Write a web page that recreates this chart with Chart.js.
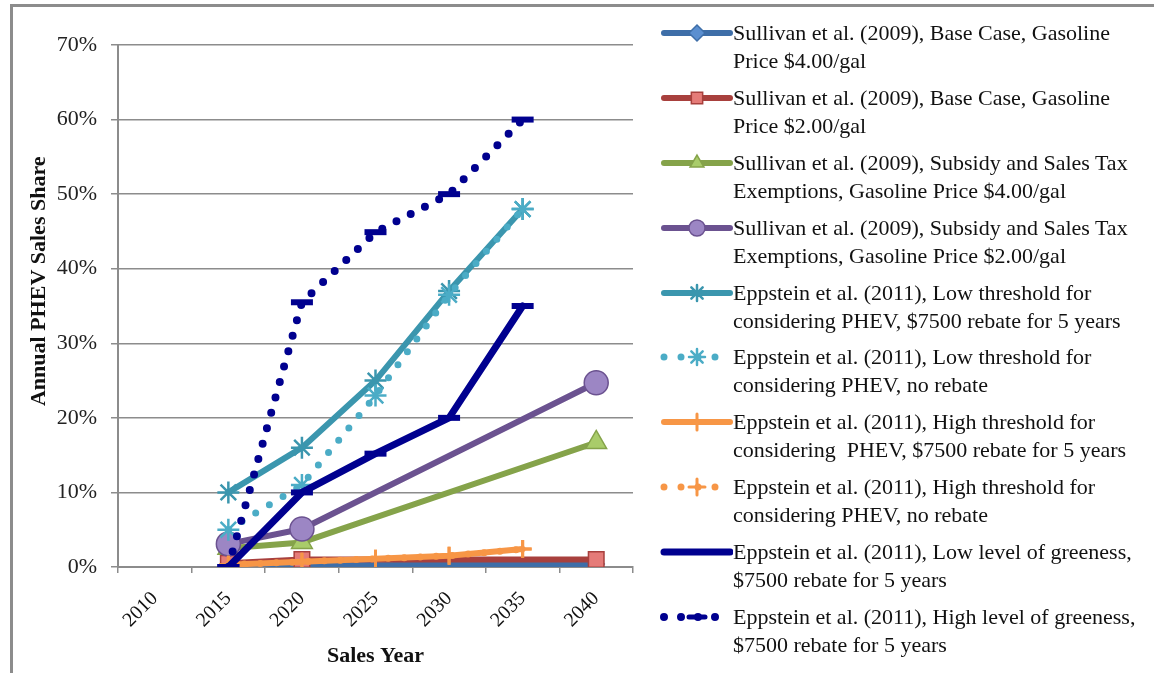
<!DOCTYPE html>
<html>
<head>
<meta charset="utf-8">
<script src="https://cdn.jsdelivr.net/npm/chart.js@4/dist/chart.umd.min.js"></script>
<style>
  html, body { margin: 0; padding: 0; background: #fff; }
  body { width: 1154px; height: 673px; position: relative; overflow: hidden; font-family: "Liberation Serif", "DejaVu Serif", serif; }
  #frame { position: absolute; left: 10px; top: 4px; right: -10px; bottom: -10px; border-left: 3px solid #8c8c8c; border-top: 3px solid #8c8c8c; }
  #plot { position: absolute; left: 0; top: 0; width: 650px; height: 673px; }
  #legend { position: absolute; left: 660px; top: 19px; width: 494px; }
  .item { display: flex; align-items: flex-start; height: 64.9px; }
  .item canvas { flex: none; margin-top: 2px; }
  .item span { font-size: 22px; line-height: 28px; color: #111; white-space: nowrap; }
</style>
</head>
<body>
<div id="frame"></div>
<div id="plot"><canvas id="chart" width="650" height="673"></canvas></div>
<div id="legend"></div>
<script>
// Anos de venda (eixo X) e rótulos do eixo Y
const years = ['2010', '2015', '2020', '2025', '2030', '2035', '2040'];
const yTicks = [0, 10, 20, 30, 40, 50, 60, 70];

// Sullivan et al. (2009) - pontos só em 2015, 2020 e 2040
const sullBase4 = [null, 0.0, 0.2, null, null, null, 0.4];
const sullBase2 = [null, 0.5, 1.0, null, null, null, 1.0];
const sullSub4 = [null, 2.5, 3.3, null, null, null, 16.7];
const sullSub2 = [null, 3.1, 5.1, null, null, null, 24.7];

// Eppstein et al. (2011)
const eppLowReb = [null, 10.0, 16.0, 25.0, 37.0, 48.0, null];
const eppLowNo = [null, 5.0, 11.0, 23.0, 36.5, 48.0, null];
const eppHighReb = [null, 0.3, 0.7, 1.1, 1.5, 2.4, null];
const eppHighNo = [null, 0.3, 0.7, 1.1, 1.5, 2.4, null];
const eppGreenLow = [null, 0.0, 10.0, 15.2, 20.0, 35.0, null];
const eppGreenHigh = [null, 0.0, 35.5, 44.9, 50.0, 60.0, null];

const labels = [
  ['Sullivan et al. (2009), Base Case, Gasoline', 'Price $4.00/gal'],
  ['Sullivan et al. (2009), Base Case, Gasoline', 'Price $2.00/gal'],
  ['Sullivan et al. (2009), Subsidy and Sales Tax', 'Exemptions, Gasoline Price $4.00/gal'],
  ['Sullivan et al. (2009), Subsidy and Sales Tax', 'Exemptions, Gasoline Price $2.00/gal'],
  ['Eppstein et al. (2011), Low threshold for', 'considering PHEV, $7500 rebate for 5 years'],
  ['Eppstein et al. (2011), Low threshold for', 'considering PHEV, no rebate'],
  ['Eppstein et al. (2011), High threshold for', 'considering&nbsp; PHEV, $7500 rebate for 5 years'],
  ['Eppstein et al. (2011), High threshold for', 'considering PHEV, no rebate'],
  ['Eppstein et al. (2011), Low level of greeness,', '$7500 rebate for 5 years'],
  ['Eppstein et al. (2011), High level of greeness,', '$7500 rebate for 5 years']
];

// Estilo de cada série
function serie(data, line, fill, style, radius, dotted, width) {
  return {
    data: data,
    borderColor: line,
    backgroundColor: fill,
    pointBorderColor: line,
    pointBackgroundColor: fill,
    pointStyle: style,
    pointRadius: radius,
    pointHoverRadius: radius,
    pointBorderWidth: style === 'line' ? 6 : (style === 'cross' ? 3 : (style === 'star' ? 2.5 : 1.5)),
    borderWidth: width || 6,
    borderDash: dotted ? [0, 16] : [],
    borderCapStyle: 'round',
    borderJoinStyle: 'round',
    spanGaps: true,
    tension: 0,
    fill: false
  };
}

const datasets = [
  serie(sullBase4, '#3e6ea8', '#5b8fd0', 'rectRot', 8),
  serie(sullBase2, '#a8403d', '#e57b78', 'rect', 11),
  serie(sullSub4, '#85a34a', '#a9cc6a', 'triangle', 12),
  serie(sullSub2, '#6b5290', '#9c86c4', 'circle', 12),
  serie(eppLowReb, '#3b96ae', '#4bacc6', 'star', 11),
  serie(eppLowNo, '#4bacc6', '#4bacc6', 'star', 11, true, 7),
  serie(eppHighReb, '#f79646', '#f79646', 'cross', 9),
  serie(eppHighNo, '#f79646', '#f79646', 'cross', 9, true, 7),
  serie(eppGreenLow, '#00008f', '#00008f', 'line', 11, false, 7),
  serie(eppGreenHigh, '#00008f', '#00008f', 'line', 11, true, 8)
];
// séries posteriores desenhadas por cima, como no Excel
datasets.forEach((d, i) => { d.label = labels[i].join(' '); d.order = datasets.length - i; });

const ctx = document.getElementById('chart');
new Chart(ctx, {
  type: 'line',
  data: { labels: years, datasets: datasets },
  options: {
    responsive: false,
    maintainAspectRatio: false,
    animation: false,
    layout: { padding: { top: 45, right: 5, left: 0, bottom: 0 } },
    plugins: { legend: { display: false }, tooltip: { enabled: false } },
    scales: {
      x: {
        offset: true,
        grid: { offset: true, drawOnChartArea: false, color: '#8c8c8c', lineWidth: 1.5, tickLength: 6 },
        border: { color: '#8c8c8c', width: 2 },
        ticks: { minRotation: 45, maxRotation: 45, padding: 14, color: '#111', font: { family: 'Liberation Serif', size: 20 } },
        title: { display: true, text: 'Sales Year', color: '#111', font: { family: 'Liberation Serif', size: 22, weight: 'bold' }, padding: { top: 0, bottom: 3 } },
        afterFit: s => { s.height = 106; }
      },
      y: {
        min: 0,
        max: 70,
        afterBuildTicks: s => { s.ticks = yTicks.map(v => ({ value: v })); },
        grid: { color: '#8c8c8c', lineWidth: 1.5, tickLength: 7 },
        border: { color: '#8c8c8c', width: 2 },
        ticks: { padding: 14, color: '#222', font: { family: 'Liberation Serif', size: 22 }, callback: v => v + '%' },
        // espaços no início deslocam o título para cima, como no original
        title: { display: true, text: '         Annual PHEV Sales Share', color: '#111', font: { family: 'Liberation Serif', size: 22, weight: 'bold' }, padding: { top: 26, bottom: 0 } },
        afterFit: s => { s.width = 118; }
      }
    }
  }
});

// Legenda em HTML, com amostras desenhadas a partir das próprias séries
const legend = document.getElementById('legend');
datasets.forEach((d, i) => {
  const item = document.createElement('div');
  item.className = 'item';
  const c = document.createElement('canvas');
  c.width = 73; c.height = 24;
  const g = c.getContext('2d');
  g.strokeStyle = d.borderColor;
  g.lineWidth = d.borderWidth;
  g.lineCap = 'round';
  g.setLineDash(d.borderDash.length ? [0, 17] : []);
  g.beginPath(); g.moveTo(4, 12); g.lineTo(70, 12); g.stroke();
  g.setLineDash([]);
  g.fillStyle = d.pointBackgroundColor;
  g.strokeStyle = d.pointBorderColor;
  g.lineWidth = d.pointStyle === 'line' ? 5 : d.pointBorderWidth;
  Chart.helpers.drawPoint(g, { pointStyle: d.pointStyle, radius: Math.min(d.pointRadius, 8), rotation: 0, borderWidth: g.lineWidth }, 37, 12);
  item.appendChild(c);
  const t = document.createElement('span');
  t.innerHTML = labels[i].join('<br>');
  item.appendChild(t);
  legend.appendChild(item);
});
</script>
</body>
</html>
